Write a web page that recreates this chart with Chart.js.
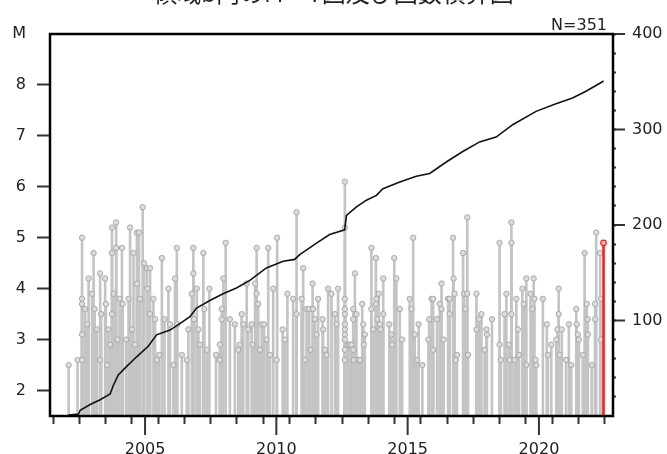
<!DOCTYPE html>
<html>
<head>
<meta charset="utf-8">
<script src="https://cdn.jsdelivr.net/npm/chart.js@4"></script>
<style>
  html, body { margin: 0; padding: 0; background: #fff; overflow: hidden; }
  #wrap { position: absolute; left: 0; top: -22px; width: 667px; height: 476px; }
</style>
</head>
<body>
<div id="wrap"><canvas id="mtChart" width="667" height="476"></canvas></div>
<script>
// Event times (decimal year) and magnitudes
const quakeYears = [
  2002.09, 2002.43, 2002.60, 2002.60, 2002.60, 2002.60, 2002.60, 2002.72, 2002.79, 2002.85,
  2002.98, 2003.04, 2003.08, 2003.17, 2003.29, 2003.29, 2003.33, 2003.48, 2003.51, 2003.55,
  2003.61, 2003.67, 2003.74, 2003.74, 2003.74, 2003.80, 2003.90, 2003.90, 2003.95, 2004.03,
  2004.12, 2004.15, 2004.28, 2004.37, 2004.43, 2004.50, 2004.56, 2004.62, 2004.69, 2004.69,
  2004.77, 2004.81, 2004.91, 2004.96, 2005.07, 2005.09, 2005.19, 2005.19, 2005.32, 2005.38,
  2005.45, 2005.54, 2005.64, 2005.74, 2005.89, 2005.95, 2006.08, 2006.14, 2006.21, 2006.23,
  2006.40, 2006.59, 2006.65, 2006.78, 2006.84, 2006.84, 2006.87, 2006.97, 2007.03, 2007.09,
  2007.22, 2007.26, 2007.35, 2007.45, 2007.70, 2007.85, 2007.85, 2007.92, 2007.92, 2007.98,
  2008.07, 2008.23, 2008.42, 2008.55, 2008.61, 2008.68, 2008.74, 2008.87, 2008.93, 2009.06,
  2009.10, 2009.19, 2009.25, 2009.25, 2009.31, 2009.38, 2009.44, 2009.53, 2009.63, 2009.69,
  2009.76, 2009.88, 2010.01, 2010.03, 2010.24, 2010.33, 2010.42, 2010.64, 2010.77, 2010.77,
  2010.96, 2011.02, 2011.09, 2011.15, 2011.25, 2011.30, 2011.38, 2011.40, 2011.47, 2011.53,
  2011.59, 2011.76, 2011.78, 2011.85, 2011.91, 2011.97, 2012.10, 2012.23, 2012.29, 2012.35,
  2012.61, 2012.61, 2012.61, 2012.61, 2012.61, 2012.61, 2012.61, 2012.61, 2012.61, 2012.61,
  2012.61, 2012.74, 2012.80, 2012.86, 2012.93, 2012.93, 2012.93, 2012.95, 2012.99, 2013.05,
  2013.12, 2013.18, 2013.27, 2013.31, 2013.33, 2013.37, 2013.62, 2013.62, 2013.69, 2013.79,
  2013.79, 2013.81, 2013.84, 2013.90, 2013.94, 2013.97, 2014.07, 2014.07, 2014.30, 2014.38,
  2014.41, 2014.49, 2014.57, 2014.70, 2014.79, 2015.08, 2015.15, 2015.21, 2015.27, 2015.36,
  2015.42, 2015.56, 2015.79, 2015.82, 2015.91, 2015.97, 2015.97, 2016.12, 2016.22, 2016.29,
  2016.29, 2016.37, 2016.54, 2016.60, 2016.60, 2016.73, 2016.75, 2016.79, 2016.83, 2016.88,
  2017.11, 2017.15, 2017.20, 2017.27, 2017.27, 2017.30, 2017.62, 2017.62, 2017.72, 2017.81,
  2017.93, 2018.00, 2018.02, 2018.21, 2018.50, 2018.50, 2018.55, 2018.69, 2018.76, 2018.86,
  2018.88, 2018.95, 2018.95, 2018.95, 2019.07, 2019.14, 2019.20, 2019.24, 2019.37, 2019.42,
  2019.52, 2019.52, 2019.68, 2019.75, 2019.80, 2019.83, 2019.87, 2019.90, 2020.15, 2020.30,
  2020.34, 2020.47, 2020.66, 2020.70, 2020.75, 2020.75, 2020.79, 2020.87, 2021.03, 2021.14,
  2021.23, 2021.42, 2021.44, 2021.48, 2021.52, 2021.67, 2021.74, 2021.82, 2021.86, 2021.86,
  2022.01, 2022.14, 2022.14, 2022.18, 2022.33, 2022.37, 2022.37
];
const quakeMags = [
  2.5, 2.6, 5.0, 3.8, 3.7, 3.1, 2.6, 3.6, 3.3, 4.2,
  3.9, 4.7, 3.6, 3.2, 4.3, 2.6, 3.5, 4.2, 3.7, 2.5,
  3.2, 2.9, 5.2, 4.7, 3.5, 3.9, 5.3, 4.8, 3.0, 3.8,
  4.8, 3.7, 3.0, 3.8, 5.2, 3.2, 4.7, 2.9, 5.1, 4.1,
  5.1, 3.8, 5.6, 4.5, 4.4, 4.0, 4.4, 3.5, 3.8, 3.4,
  2.6, 2.7, 4.6, 3.4, 4.0, 3.3, 2.5, 4.2, 4.8, 3.3,
  2.7, 2.6, 3.2, 3.9, 4.8, 4.3, 3.4, 4.0, 3.2, 2.9,
  4.7, 3.6, 2.8, 4.0, 2.7, 2.9, 2.6, 3.6, 3.4, 4.2,
  4.9, 3.4, 3.3, 2.8, 2.9, 3.5, 3.3, 4.1, 3.2, 3.3,
  2.9, 4.1, 4.8, 3.9, 3.7, 2.8, 3.3, 3.3, 3.0, 4.8,
  2.7, 4.0, 2.6, 5.0, 3.2, 3.0, 3.9, 3.8, 5.5, 3.5,
  3.8, 4.4, 2.6, 3.6, 3.6, 2.8, 4.1, 3.6, 3.4, 3.1,
  3.8, 3.4, 3.2, 2.8, 2.7, 4.0, 3.9, 3.5, 3.3, 4.0,
  6.1, 5.2, 3.8, 3.6, 3.5, 3.3, 3.2, 3.1, 3.0, 2.8,
  2.6, 2.9, 2.9, 2.9, 2.8, 3.6, 3.4, 2.6, 4.3, 3.5,
  2.6, 2.6, 3.7, 3.3, 2.9, 3.1, 4.8, 3.6, 3.2, 4.6,
  3.7, 3.8, 3.4, 3.9, 3.3, 3.2, 4.2, 3.5, 3.3, 3.1,
  2.9, 4.6, 4.2, 3.6, 3.0, 3.8, 3.6, 5.0, 3.1, 2.6,
  3.3, 2.5, 3.0, 3.4, 3.8, 3.8, 2.8, 3.4, 3.7, 4.1,
  3.6, 3.0, 3.8, 3.8, 3.5, 5.0, 4.2, 3.9, 2.6, 2.7,
  4.7, 3.9, 3.6, 5.4, 3.9, 2.7, 3.9, 3.2, 3.4, 3.5,
  2.8, 3.2, 3.1, 3.4, 4.9, 2.9, 2.6, 3.5, 3.9, 2.9,
  2.6, 5.3, 4.9, 3.5, 2.6, 3.8, 3.2, 2.7, 4.0, 3.7,
  4.2, 2.5, 3.9, 3.6, 4.2, 3.8, 2.6, 2.5, 3.8, 3.3,
  2.7, 2.9, 3.0, 3.2, 4.0, 3.5, 2.7, 3.2, 2.6, 3.3,
  2.5, 3.6, 3.3, 3.1, 3.0, 2.7, 4.7, 3.7, 3.4, 3.1,
  2.5, 3.7, 3.4, 5.1, 4.7, 3.8, 3.0
];
// most recent event, drawn in red
const latestYear = 2022.46;
const latestMag = 4.9;

// cumulative count curve (right axis)
const cumYears = [
  2002.09, 2002.47, 2002.53, 2002.91, 2003.29, 2003.67, 2003.79, 2003.98, 2004.30, 2004.68,
  2005.12, 2005.44, 2005.95, 2006.45, 2006.71, 2006.96, 2007.47, 2007.97, 2008.48, 2008.99,
  2009.62, 2010.26, 2010.70, 2010.89, 2011.53, 2012.03, 2012.60, 2012.67, 2013.05, 2013.43,
  2013.81, 2014.06, 2014.70, 2015.33, 2015.84, 2016.47, 2017.10, 2017.74, 2018.37, 2019.00,
  2019.89, 2020.65, 2021.28, 2021.79, 2022.42, 2022.46
];
const cumCounts = [
  1, 2, 6, 12, 17, 23, 32, 43, 52, 62,
  73, 85, 90, 99, 104, 113, 121, 128, 134, 142,
  155, 162, 164, 169, 181, 190, 195, 210, 219, 226,
  231, 238, 245, 251, 254, 266, 277, 287, 292, 305,
  319, 327, 333, 340, 350, 351
];

const yearTicks = [2002, 2003, 2004, 2005, 2006, 2007, 2008, 2009, 2010, 2011, 2012,
  2013, 2014, 2015, 2016, 2017, 2018, 2019, 2020, 2021, 2022];
const magTicks = [2, 3, 4, 5, 6, 7, 8];
const countTicks = [20, 40, 60, 80, 100, 120, 140, 160, 180, 200,
  220, 240, 260, 280, 300, 320, 340, 360, 380, 400];
const totalLabel = 'N=351';
const titleText = '領域b内のM－T図及び回数積算図';

const M_MIN = 1.5;
const tickFont = { family: 'DejaVu Sans', size: 16 };

const stems = quakeYears.map((t, i) => ({ x: t, y: [M_MIN, quakeMags[i]] }));
const heads = quakeYears.map((t, i) => ({ x: t, y: quakeMags[i] }));
const cumData = cumYears.map((t, i) => ({ x: t, y: cumCounts[i] }));

// frame, long major ticks and the N label
const framePlugin = {
    id: 'frame',
    afterDraw(chart) {
        const { ctx, chartArea: a, scales } = chart;
        ctx.save();
        ctx.strokeStyle = '#333';
        ctx.lineWidth = 2;
        yearTicks.filter(v => v % 5 === 0).forEach(v => {
            const px = scales.x.getPixelForValue(v);
            ctx.beginPath();
            ctx.moveTo(px, a.bottom);
            ctx.lineTo(px, a.bottom + 19);
            ctx.stroke();
        });
        countTicks.filter(v => v % 100 === 0).forEach(v => {
            const py = scales.y2.getPixelForValue(v);
            ctx.beginPath();
            ctx.moveTo(a.right, py);
            ctx.lineTo(a.right + 12, py);
            ctx.stroke();
        });
        ctx.strokeStyle = '#000';
        ctx.lineWidth = 2.5;
        ctx.strokeRect(a.left, a.top, a.right - a.left, a.bottom - a.top);
        ctx.fillStyle = '#222';
        ctx.font = '16px "DejaVu Sans"';
        ctx.textAlign = 'right';
        ctx.textBaseline = 'alphabetic';
        ctx.fillText(totalLabel, a.right - 6, a.top - 4);
        ctx.restore();
    }
};

new Chart(document.getElementById('mtChart'), {
    data: {
        datasets: [
            {
                type: 'line', label: 'count', data: cumData, yAxisID: 'y2',
                borderColor: '#111', borderWidth: 1.6, pointRadius: 0, tension: 0
            },
            {
                type: 'scatter', label: 'latest', data: [{ x: latestYear, y: latestMag }], yAxisID: 'y',
                pointRadius: 2.8, borderWidth: 1.2, pointBackgroundColor: '#ffb0b0', pointBorderColor: '#ff2020'
            },
            {
                type: 'bar', label: 'latestStem', data: [{ x: latestYear, y: [M_MIN, latestMag] }], yAxisID: 'y',
                backgroundColor: '#ff2020', barThickness: 2, grouped: false
            },
            {
                type: 'scatter', label: 'heads', data: heads, yAxisID: 'y',
                pointRadius: 2.7, borderWidth: 1, pointBackgroundColor: '#dcdcdc', pointBorderColor: '#a8a8a8'
            },
            {
                type: 'bar', label: 'stems', data: stems, yAxisID: 'y',
                backgroundColor: '#c4c4c4', barThickness: 2, grouped: false
            }
        ]
    },
    options: {
        responsive: false,
        animation: false,
        devicePixelRatio: 1,
        layout: { padding: 0 },
        plugins: {
            legend: { display: false },
            tooltip: { enabled: false },
            title: {
                display: true, text: titleText, color: '#222',
                font: { family: '"Noto Sans CJK JP"', size: 24, weight: 'normal', lineHeight: 1.2 },
                padding: { top: 0, bottom: 27.2 }
            }
        },
        scales: {
            x: {
                type: 'linear', position: 'bottom', min: 2001.38, max: 2022.82, offset: false,
                afterBuildTicks: s => { s.ticks = yearTicks.map(v => ({ value: v })); },
                afterFit: s => { s.height = 38; },
                ticks: {
                    font: tickFont, color: '#222', padding: 16, maxRotation: 0, autoSkip: false,
                    callback: v => (v % 5 === 0 ? String(v) : '')
                },
                grid: { drawOnChartArea: false, tickLength: 8, tickWidth: 2, tickColor: '#333' },
                border: { display: false }
            },
            y: {
                type: 'linear', position: 'left', min: M_MIN, max: 9,
                afterBuildTicks: s => { s.ticks = magTicks.concat([9]).map(v => ({ value: v })); },
                afterFit: s => { s.width = 50; },
                ticks: {
                    font: tickFont, color: '#222', padding: 11,
                    callback: v => (v === 9 ? 'M' : String(v))
                },
                grid: {
                    drawOnChartArea: false, tickLength: 13, tickWidth: 2,
                    tickColor: c => (c.tick && c.tick.value === 9 ? 'rgba(0,0,0,0)' : '#333')
                },
                border: { display: false }
            },
            y2: {
                type: 'linear', position: 'right', min: 0, max: 400,
                afterBuildTicks: s => { s.ticks = countTicks.map(v => ({ value: v })); },
                afterFit: s => { s.width = 54; },
                ticks: {
                    font: tickFont, color: '#222', padding: 16, autoSkip: false,
                    callback: v => (v % 100 === 0 ? String(v) : '')
                },
                grid: { drawOnChartArea: false, tickLength: 3, tickWidth: 2, tickColor: '#333' },
                border: { display: false }
            }
        }
    },
    plugins: [framePlugin]
});
</script>
</body>
</html>
